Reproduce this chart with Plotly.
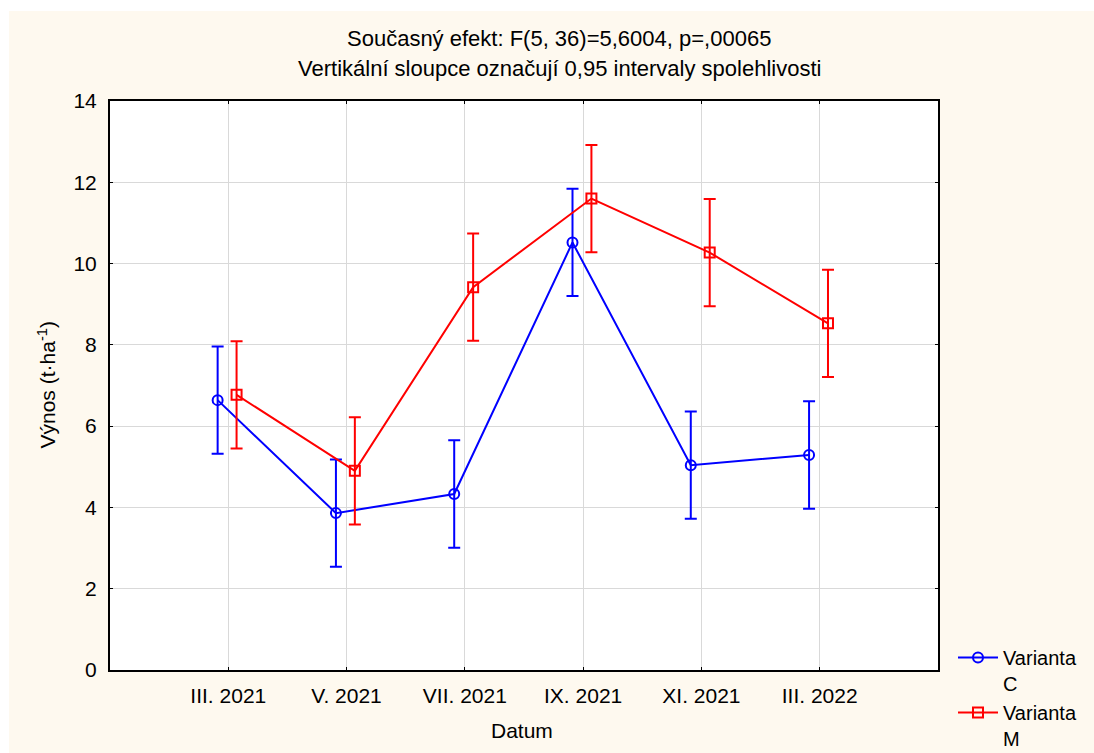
import plotly.graph_objects as go

categories = ["III. 2021", "V. 2021", "VII. 2021", "IX. 2021", "XI. 2021", "III. 2022"]
varianta_c = [6.64, 3.86, 4.33, 10.52, 5.04, 5.29]
varianta_m = [6.77, 4.90, 9.42, 11.60, 10.27, 8.53]
ci_c = [1.32, 1.32, 1.32, 1.32, 1.32, 1.32]
ci_m = [1.32, 1.32, 1.32, 1.32, 1.32, 1.32]
y_ticks = [0, 2, 4, 6, 8, 10, 12, 14]

pos = list(range(1, len(categories) + 1))
FONT = "Liberation Sans, Arial, sans-serif"

fig = go.Figure()
fig.add_trace(go.Scatter(
    x=[p - 0.09 for p in pos], y=varianta_c, name="Varianta<br>C",
    mode="lines+markers",
    line=dict(color="#0000FF", width=2),
    marker=dict(symbol="circle-open", size=10, color="#0000FF", line=dict(width=2)),
    error_y=dict(type="data", array=ci_c, visible=True, color="#0000FF", thickness=2, width=6),
))
fig.add_trace(go.Scatter(
    x=[p + 0.07 for p in pos], y=varianta_m, name="Varianta<br>M",
    mode="lines+markers",
    line=dict(color="#FF0000", width=2),
    marker=dict(symbol="square-open", size=10, color="#FF0000", line=dict(width=2)),
    error_y=dict(type="data", array=ci_m, visible=True, color="#FF0000", thickness=2, width=6),
))

W, H = 1094, 753
L, R, T, B = 110, 938, 101, 670
pw, ph = R - L, B - T

def px2x(px):
    return (px - L) / pw

def py2y(py):
    return (B - py) / ph

cream = "#FEF9EF"
shapes = [
    dict(type="rect", xref="paper", yref="paper", x0=px2x(-5), x1=px2x(9), y0=py2y(W), y1=py2y(-5),
         fillcolor="white", line=dict(width=0), layer="below"),
    dict(type="rect", xref="paper", yref="paper", x0=px2x(-5), x1=px2x(W + 5), y0=py2y(11), y1=py2y(-5),
         fillcolor="white", line=dict(width=0), layer="below"),
]

annotations = [
    dict(text="Současný efekt: F(5, 36)=5,6004, p=,00065", xref="paper", yref="paper",
         x=px2x(559), y=py2y(38), showarrow=False, font=dict(size=22, color="black", family=FONT),
         xanchor="center", yanchor="middle"),
    dict(text="Vertikální sloupce označují 0,95 intervaly spolehlivosti", xref="paper", yref="paper",
         x=px2x(559), y=py2y(68), showarrow=False, font=dict(size=22, color="black", family=FONT),
         xanchor="center", yanchor="middle"),
    dict(text="Výnos (t·ha<sup>-1</sup>)", xref="paper", yref="paper",
         x=px2x(46), y=0.5, showarrow=False, textangle=-90, font=dict(size=21, color="black", family=FONT),
         xanchor="center", yanchor="middle"),
    dict(text="Datum", xref="paper", yref="paper",
         x=px2x(522), y=py2y(730), showarrow=False, font=dict(size=21, color="black", family=FONT),
         xanchor="center", yanchor="middle"),
]

fig.update_layout(
    width=W, height=H,
    margin=dict(l=L, r=W - R, t=T, b=H - B, pad=0, autoexpand=False),
    paper_bgcolor=cream, plot_bgcolor="white",
    font=dict(family=FONT, size=21, color="black"),
    shapes=shapes, annotations=annotations,
    showlegend=True,
    legend=dict(x=px2x(953), y=py2y(638), xanchor="left", yanchor="top",
                bgcolor="rgba(0,0,0,0)", font=dict(size=20, family=FONT),
                valign="top", itemwidth=40),
    xaxis=dict(range=[0, 7], tickmode="array", tickvals=pos, ticktext=categories,
               showgrid=True, gridcolor="#D9D9D9", gridwidth=1, zeroline=False,
               showline=True, linecolor="black", linewidth=2, mirror="all",
               ticks="inside", ticklen=3, tickcolor="black", tickwidth=1,
               ticklabelstandoff=6, tickfont=dict(size=21)),
    yaxis=dict(range=[0, 14], tickmode="array", tickvals=y_ticks,
               showgrid=True, gridcolor="#D9D9D9", gridwidth=1, zeroline=False,
               showline=True, linecolor="black", linewidth=2, mirror="all",
               ticks="inside", ticklen=3, tickcolor="black", tickwidth=1,
               ticklabelstandoff=7, tickfont=dict(size=21)),
)

fig.write_html("out.html")
